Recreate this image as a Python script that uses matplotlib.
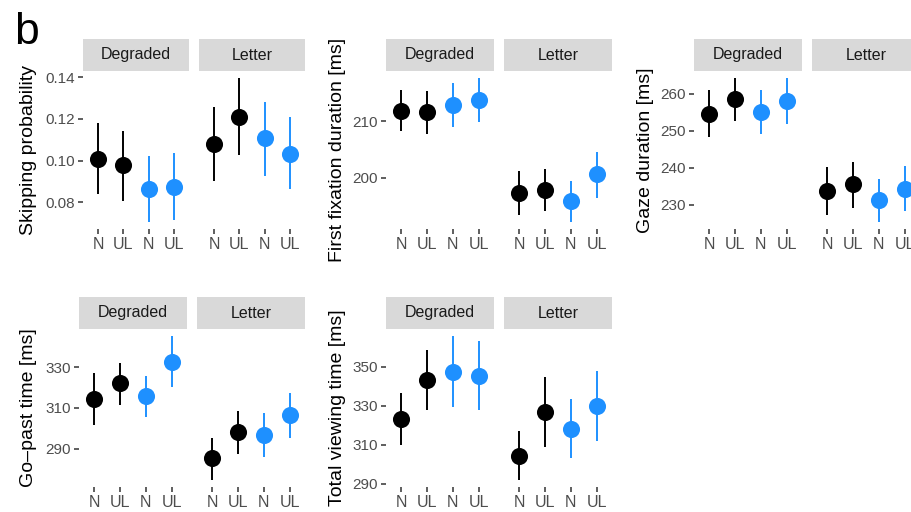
import matplotlib
matplotlib.use("Agg")
import matplotlib.pyplot as plt

plt.rcParams['font.family'] = ['Liberation Sans', 'DejaVu Sans']

W, H = 911, 512

# ---------------- data ----------------
conditions = ["N", "UL", "N", "UL"]
point_colors = ["black", "black", "#1E90FF", "#1E90FF"]
facets = ["Degraded", "Letter"]

# Skipping probability
skip_deg_mean = [0.1008, 0.0978, 0.0862, 0.0874]
skip_deg_lo = [0.0839, 0.0808, 0.0706, 0.0716]
skip_deg_hi = [0.1178, 0.1143, 0.1024, 0.1036]
skip_let_mean = [0.1080, 0.1211, 0.1108, 0.1033]
skip_let_lo = [0.0901, 0.1025, 0.0925, 0.0862]
skip_let_hi = [0.1255, 0.1395, 0.1282, 0.1207]

# First fixation duration
ffd_deg_mean = [211.8, 211.6, 212.9, 213.8]
ffd_deg_lo = [208.2, 207.7, 208.9, 209.9]
ffd_deg_hi = [215.5, 215.4, 216.8, 217.6]
ffd_let_mean = [197.3, 197.9, 195.8, 200.6]
ffd_let_lo = [193.4, 194.2, 192.2, 196.4]
ffd_let_hi = [201.2, 201.6, 199.4, 204.6]

# Gaze duration
gd_deg_mean = [254.6, 258.6, 255.1, 258.1]
gd_deg_lo = [248.2, 252.6, 249.0, 251.7]
gd_deg_hi = [260.9, 264.2, 261.0, 264.2]
gd_let_mean = [233.6, 235.5, 231.2, 234.3]
gd_let_lo = [227.2, 229.2, 225.4, 228.4]
gd_let_hi = [240.2, 241.6, 237.0, 240.6]

# Go-past time
gp_deg_mean = [314.4, 322.2, 315.9, 332.8]
gp_deg_lo = [301.4, 311.6, 305.6, 320.1]
gp_deg_hi = [327.1, 332.1, 325.8, 345.3]
gp_let_mean = [285.1, 298.1, 296.8, 306.4]
gp_let_lo = [274.6, 287.2, 285.9, 295.0]
gp_let_hi = [295.0, 308.7, 307.6, 317.3]

# Total viewing time
tvt_deg_mean = [323.3, 343.4, 347.6, 345.6]
tvt_deg_lo = [309.8, 328.0, 329.6, 327.9]
tvt_deg_hi = [336.7, 358.5, 365.8, 363.3]
tvt_let_mean = [304.5, 327.0, 318.3, 329.9]
tvt_let_lo = [292.1, 309.1, 303.3, 311.8]
tvt_let_hi = [317.1, 344.9, 333.8, 347.9]

metrics = [
    dict(title="Skipping probability", ticks=[0.08, 0.10, 0.12, 0.14], fmt="{:.2f}",
         deg=(skip_deg_mean, skip_deg_lo, skip_deg_hi), let=(skip_let_mean, skip_let_lo, skip_let_hi)),
    dict(title="First fixation duration [ms]", ticks=[200, 210], fmt="{:.0f}",
         deg=(ffd_deg_mean, ffd_deg_lo, ffd_deg_hi), let=(ffd_let_mean, ffd_let_lo, ffd_let_hi)),
    dict(title="Gaze duration [ms]", ticks=[230, 240, 250, 260], fmt="{:.0f}",
         deg=(gd_deg_mean, gd_deg_lo, gd_deg_hi), let=(gd_let_mean, gd_let_lo, gd_let_hi)),
    dict(title="Go\u2013past time [ms]", ticks=[290, 310, 330], fmt="{:.0f}",
         deg=(gp_deg_mean, gp_deg_lo, gp_deg_hi), let=(gp_let_mean, gp_let_lo, gp_let_hi)),
    dict(title="Total viewing time [ms]", ticks=[290, 310, 330, 350], fmt="{:.0f}",
         deg=(tvt_deg_mean, tvt_deg_lo, tvt_deg_hi), let=(tvt_let_mean, tvt_let_lo, tvt_let_hi)),
]

# layout (pixels): (deg_x0, deg_x1, let_x0, let_x1, strip_top, panel_top, panel_bottom, title_x)
layout = [
    (83, 189, 199, 305, 39, 71, 229, 29),
    (386, 494, 504, 612, 39, 71, 229, 337),
    (694, 802, 812, 920, 39, 71, 229, 645),
    (79, 187, 197, 305, 297, 329, 487, 29),
    (386, 494, 504, 612, 297, 329, 487, 337),
]

fig = plt.figure(figsize=(W / 100, H / 100), dpi=100)


def px_axes(x0, x1, ytop, ybot):
    return fig.add_axes([x0 / W, 1 - ybot / H, (x1 - x0) / W, (ybot - ytop) / H])


tick_color = "#333333"
label_color = "#4D4D4D"
fs_ytick = 11
fs_xtick = 11.5
fs_strip = 11.5
fs_title = 14

for m, (dx0, dx1, lx0, lx1, st, pt, pb, tx) in zip(metrics, layout):
    allvals = list(m["deg"][1]) + list(m["deg"][2]) + list(m["let"][1]) + list(m["let"][2])
    lo, hi = min(allvals), max(allvals)
    pad = (hi - lo) * 0.05
    ylim = (lo - pad, hi + pad)
    for fi, (x0, x1, facet, series) in enumerate([(dx0, dx1, facets[0], m["deg"]),
                                                  (lx0, lx1, facets[1], m["let"])]):
        ax = px_axes(x0, x1, pt, pb)
        means, los, his = series
        xs = list(range(1, len(conditions) + 1))
        for x, mu, l, h, c in zip(xs, means, los, his, point_colors):
            ax.vlines(x, l, h, color=c, lw=1.4, zorder=2)
            ax.plot([x], [mu], "o", ms=12.3, color=c, mec="none", zorder=3)
        ax.set_xlim(0.4, 4.6)
        ax.set_ylim(*ylim)
        ax.set_xticks(xs)
        ax.set_xticklabels(conditions, fontsize=fs_xtick, color=label_color)
        for s in ax.spines.values():
            s.set_visible(False)
        ax.tick_params(axis="both", direction="out", length=3.6, width=1.1,
                       color=tick_color, pad=2)
        if fi == 0:
            ax.set_yticks(m["ticks"])
            ax.set_yticklabels([m["fmt"].format(t) for t in m["ticks"]],
                               fontsize=fs_ytick, color=label_color)
        else:
            ax.set_yticks([])
        # strip
        sax = px_axes(x0, x1, st, pt)
        sax.set_facecolor("#D9D9D9")
        sax.set_xticks([])
        sax.set_yticks([])
        for s in sax.spines.values():
            s.set_visible(False)
        sax.text(0.5, 0.5, facet, ha="center", va="center", fontsize=fs_strip,
                 color="#1A1A1A", transform=sax.transAxes)
    fig.text(tx / W, 1 - ((pt + pb) / 2) / H, m["title"], rotation=90,
             ha="center", va="center", fontsize=fs_title, color="black")

fig.text(14 / W, 1 - 44 / H, "b", fontsize=32, ha="left", va="baseline", color="black")

fig.savefig("out.png", dpi=100)
